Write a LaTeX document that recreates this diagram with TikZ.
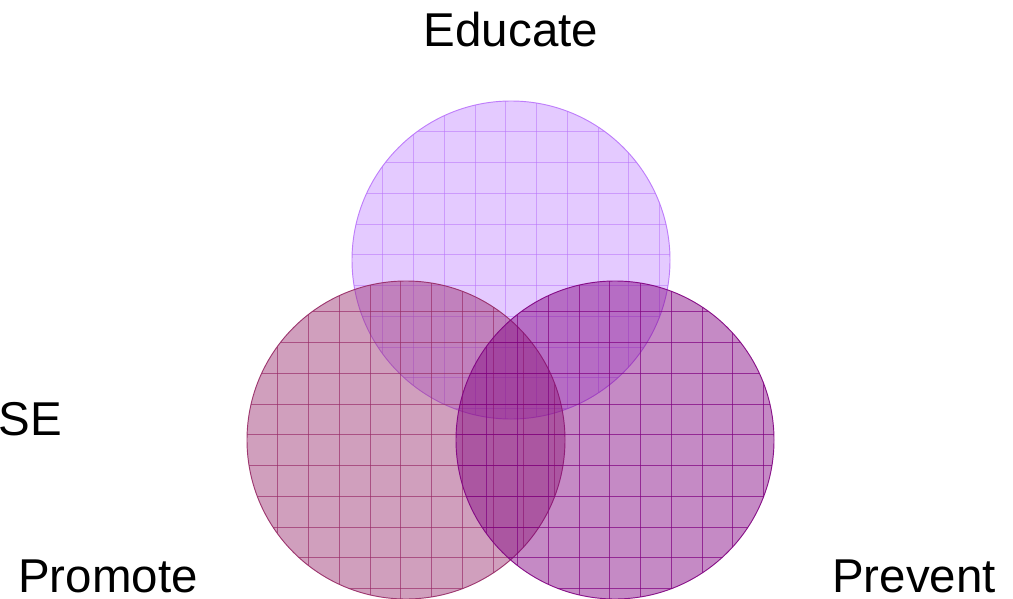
\documentclass[tikz,border=0pt]{standalone}
\usepackage{fontspec}
\setmainfont{Liberation Sans}
\definecolor{topfill}{RGB}{178,102,255}
\definecolor{topline}{RGB}{185,115,250}
\definecolor{leftfill}{RGB}{152,45,112}
\definecolor{leftline}{RGB}{150,40,100}
\definecolor{rightfill}{RGB}{128,0,128}
\definecolor{rightline}{RGB}{128,0,128}
\tikzset{
  lbl/.style={font=\fontsize{35.6}{40}\selectfont, inner sep=0pt, text=black},
}
\newcommand{\gridcircle}[6]{% cx, cy, fill, fillop, line, lineop
  \begin{scope}
    \fill[#3, fill opacity=#4] (#1,#2) circle[radius=159];
    \clip (#1,#2) circle[radius=159];
    \foreach \i in {1,...,10} {
      \draw[#5, opacity=#6, line width=0.6pt] (#1-159+\i*30.75, #2-170) -- (#1-159+\i*30.75, #2+170);
      \draw[#5, opacity=#6, line width=0.6pt] (#1-170, #2-159+\i*30.75) -- (#1+170, #2-159+\i*30.75);
    }
  \end{scope}
  \draw[#5, line width=0.7pt, opacity=0.9] (#1,#2) circle[radius=159];
}
\begin{document}
\begin{tikzpicture}[x=0.75pt, y=-0.75pt]
\useasboundingbox (0,0) rectangle (1013,599);
\gridcircle{511}{260}{topfill}{0.35}{topline}{0.55}
\gridcircle{406}{440}{leftfill}{0.46}{leftline}{0.65}
\gridcircle{615}{440}{rightfill}{0.46}{rightline}{0.7}
\node[lbl, anchor=base] (educate) at (511,47) {Educate};
\node[lbl, anchor=base] (promote) at (108,592) {Promote};
\node[lbl, anchor=base] (prevent) at (914,592) {Prevent};
\node[lbl, anchor=base east] (se) at (62,435) {SE};
\end{tikzpicture}
\end{document}
